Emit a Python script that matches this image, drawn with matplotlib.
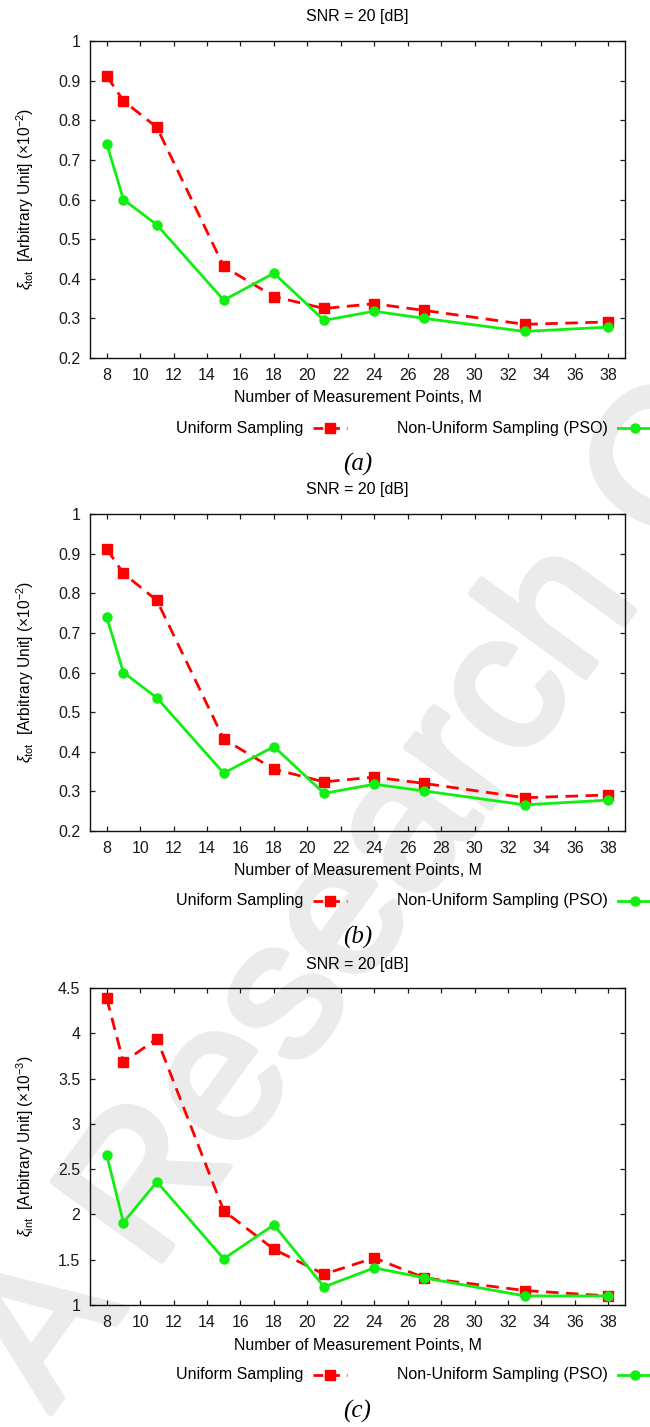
import matplotlib
matplotlib.use('Agg')
import matplotlib.pyplot as plt
import matplotlib.patheffects as pe
from matplotlib.lines import Line2D
from matplotlib.ticker import FuncFormatter

plt.rcParams['font.family'] = ['Liberation Sans', 'DejaVu Sans']
plt.rcParams['mathtext.fontset'] = 'custom'
plt.rcParams['mathtext.rm'] = 'Liberation Sans'
plt.rcParams['mathtext.it'] = 'Liberation Sans:italic'
plt.rcParams['mathtext.bf'] = 'Liberation Sans:bold'

# number of measurement points
m_points = [8, 9, 11, 15, 18, 21, 24, 27, 33, 38]

# total error, (a)
tot_uniform_a = [0.912, 0.849, 0.782, 0.431, 0.355, 0.325, 0.337, 0.320, 0.285, 0.291]
tot_pso_a = [0.741, 0.600, 0.536, 0.346, 0.414, 0.295, 0.318, 0.300, 0.267, 0.278]

# total error, (b)
tot_uniform_b = [0.912, 0.850, 0.782, 0.432, 0.356, 0.324, 0.336, 0.320, 0.284, 0.291]
tot_pso_b = [0.740, 0.600, 0.536, 0.346, 0.413, 0.295, 0.318, 0.301, 0.266, 0.278]

# interior error, (c)
int_uniform = [4.385, 3.68, 3.94, 2.04, 1.615, 1.34, 1.52, 1.30, 1.16, 1.10]
int_pso = [2.655, 1.91, 2.36, 1.51, 1.885, 1.20, 1.41, 1.30, 1.10, 1.10]

x_ticks = list(range(8, 39, 2))
tot_ticks = [0.2, 0.3, 0.4, 0.5, 0.6, 0.7, 0.8, 0.9, 1.0]
int_ticks = [1, 1.5, 2, 2.5, 3, 3.5, 4, 4.5]

title = 'SNR = 20 [dB]'
x_label = 'Number of Measurement Points, M'
tot_label = r'$\xi_{\mathrm{tot}}$  [Arbitrary Unit] ($\times$10$^{-2}$)'
int_label = r'$\xi_{\mathrm{int}}$  [Arbitrary Unit] ($\times$10$^{-3}$)'
uniform_name = 'Uniform Sampling'
pso_name = 'Non-Uniform Sampling (PSO)'

RED = '#ff0000'
GREEN = '#11ee11'
FS = 11.5
LW = 2.0
DASH = (4.5, 2.7)
MARK = '#ebebeb'

W, H = 650, 1427


def fx(x):
    return x / W


def fy(y):
    return 1 - y / H


fig = plt.figure(figsize=(W / 100, H / 100), dpi=100)

# faint watermark behind everything
fig.text(fx(362), fy(898), 'A Research C', fontsize=140, color=MARK,
         rotation=54, rotation_mode='anchor', ha='center', va='center',
         family='Liberation Sans', zorder=-5,
         path_effects=[pe.withStroke(linewidth=5, foreground=MARK)])


def legend_sample(y, x0, x1, color, marker, ms, dashed):
    xs = [fx(x0), fx((x0 + x1) / 2), fx(x1)]
    ys = [fy(y)] * 3
    ln = Line2D(xs, ys, transform=fig.transFigure, color=color, lw=LW,
                marker=marker, markersize=ms, markevery=[1])
    if dashed:
        ln.set_dashes((3.5, 2.5))
    fig.add_artist(ln)


def draw_panel(top, uniform, pso, ticks, ylim, ylabel, tag):
    bottom = top + 317
    ax = fig.add_axes([fx(90), fy(bottom), fx(535), 317 / H])
    ax.patch.set_alpha(0)
    ax.plot(m_points, uniform, color=RED, lw=LW, dashes=DASH,
            marker='s', markersize=7, zorder=3)
    ax.plot(m_points, pso, color=GREEN, lw=LW, marker='o', markersize=6.5,
            zorder=4)
    ax.set_xlim(7, 39)
    ax.set_ylim(*ylim)
    ax.set_xticks(x_ticks)
    ax.set_yticks(ticks)
    ax.yaxis.set_major_formatter(FuncFormatter(lambda v, p: '%g' % round(v, 3)))
    ax.tick_params(direction='in', length=3.3, width=0.9, top=True,
                   right=True, labelsize=FS, pad=7, colors='#1a1a1a')
    for s in ax.spines.values():
        s.set_linewidth(1.0)
        s.set_color('#111111')

    cx = (90 + 625) / 2
    fig.text(fx(cx), fy(top - 24), title, ha='center', va='center', fontsize=FS)
    fig.text(fx(cx), fy(bottom + 40), x_label, ha='center', va='center', fontsize=FS)
    fig.text(fx(25), fy(top + 158), ylabel, ha='center', va='center',
             rotation=90, fontsize=FS - 0.3)

    ly = bottom + 70
    fig.text(fx(303), fy(ly), uniform_name, ha='right', va='center', fontsize=FS)
    legend_sample(ly, 313, 347, RED, 's', 7, True)
    fig.text(fx(608), fy(ly), pso_name, ha='right', va='center', fontsize=FS)
    legend_sample(ly, 618, 652, GREEN, 'o', 6.5, False)

    fig.text(fx(cx), fy(bottom + 106), tag, ha='center', va='center',
             fontsize=18, family='Liberation Serif', style='italic')
    return ax


draw_panel(41, tot_uniform_a, tot_pso_a, tot_ticks, (0.2, 1.0), tot_label, '(a)')
draw_panel(514, tot_uniform_b, tot_pso_b, tot_ticks, (0.2, 1.0), tot_label, '(b)')
draw_panel(988, int_uniform, int_pso, int_ticks, (1.0, 4.5), int_label, '(c)')

fig.savefig('out.png', dpi=100)
